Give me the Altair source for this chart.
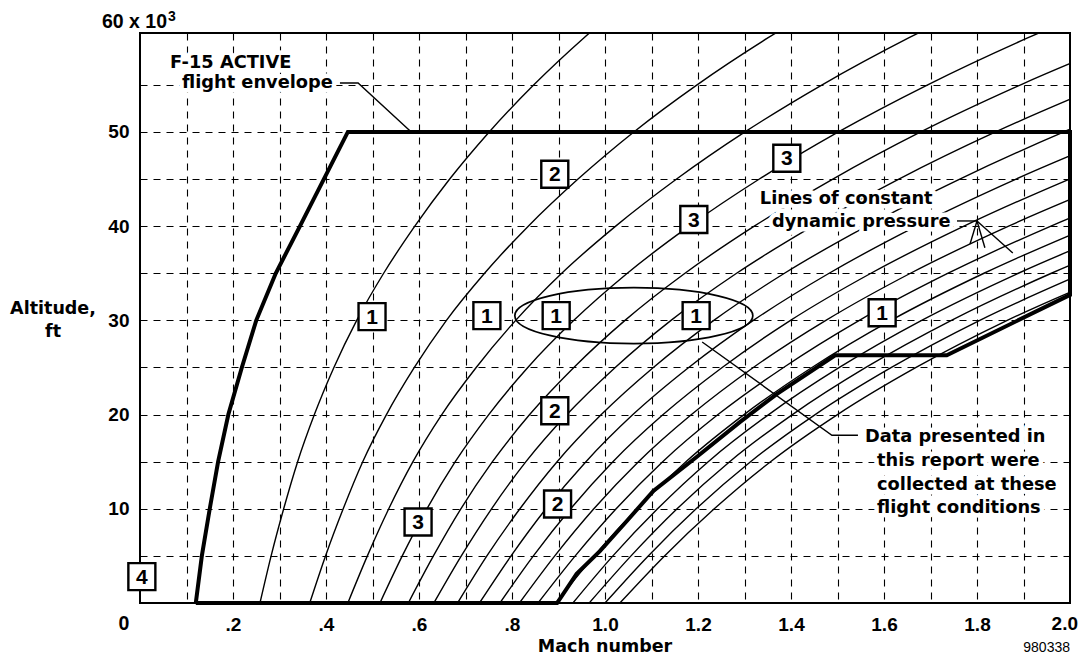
import altair as alt
import pandas as pd

# ---------------- data ----------------
ALT_K = [0, 5, 10, 15, 20, 25, 30, 35, 40, 45, 50, 55, 60, 65]  # altitude, thousands of ft
Q_PSF = [100, 200, 300, 400, 500, 600, 700, 800, 900, 1000, 1100, 1200, 1300, 1400, 1500, 1600]

# Mach number of each constant-q line at the altitudes above
M_Q100 = [0.258, 0.282, 0.309, 0.339, 0.375, 0.417, 0.466, 0.524, 0.591, 0.666, 0.751, 0.847, 0.955, 1.077]
M_Q200 = [0.365, 0.399, 0.437, 0.479, 0.530, 0.590, 0.659, 0.741, 0.835, 0.942, 1.062, 1.198, 1.351, 1.523]
M_Q300 = [0.447, 0.489, 0.535, 0.587, 0.649, 0.723, 0.808, 0.907, 1.023, 1.154, 1.301, 1.467, 1.654, 1.865]
M_Q400 = [0.516, 0.564, 0.617, 0.678, 0.750, 0.834, 0.933, 1.048, 1.181, 1.332, 1.502, 1.694, 1.910, 2.154]
M_Q500 = [0.577, 0.631, 0.690, 0.758, 0.838, 0.933, 1.043, 1.172, 1.321, 1.490, 1.679, 1.894, 2.135]
M_Q600 = [0.632, 0.691, 0.756, 0.830, 0.918, 1.022, 1.142, 1.283, 1.447, 1.632, 1.840, 2.074]
M_Q700 = [0.683, 0.746, 0.817, 0.897, 0.992, 1.104, 1.234, 1.386, 1.563, 1.763, 1.987, 2.241]
M_Q800 = [0.730, 0.798, 0.873, 0.959, 1.060, 1.180, 1.319, 1.482, 1.670, 1.884, 2.124]
M_Q900 = [0.774, 0.846, 0.926, 1.017, 1.125, 1.252, 1.399, 1.572, 1.772, 1.999, 2.253]
M_Q1000 = [0.816, 0.892, 0.976, 1.072, 1.186, 1.319, 1.475, 1.657, 1.868, 2.107]
M_Q1100 = [0.856, 0.936, 1.024, 1.124, 1.243, 1.384, 1.547, 1.738, 1.959, 2.210]
M_Q1200 = [0.894, 0.977, 1.069, 1.174, 1.299, 1.445, 1.615, 1.815, 2.046]
M_Q1300 = [0.931, 1.017, 1.113, 1.222, 1.352, 1.504, 1.681, 1.889, 2.129]
M_Q1400 = [0.966, 1.056, 1.155, 1.268, 1.403, 1.561, 1.745, 1.960, 2.210]
M_Q1500 = [1.000, 1.093, 1.196, 1.313, 1.452, 1.616, 1.806, 2.029]
M_Q1600 = [1.032, 1.128, 1.235, 1.356, 1.500, 1.669, 1.865, 2.096]
CURVES = [M_Q100, M_Q200, M_Q300, M_Q400, M_Q500, M_Q600, M_Q700, M_Q800,
          M_Q900, M_Q1000, M_Q1100, M_Q1200, M_Q1300, M_Q1400, M_Q1500, M_Q1600]

# F-15 ACTIVE flight envelope (closed outline)
ENV_MACH = [0.120, 0.133, 0.150, 0.168, 0.190, 0.219, 0.250, 0.292, 0.344, 0.447, 2.000, 2.000,
            1.735, 1.495, 1.370, 1.290, 1.197, 1.104, 1.047, 0.989, 0.939, 0.897, 0.120]
ENV_ALT = [0, 5, 10, 15, 20, 25, 30, 35, 40, 50, 50, 32.7,
           26.3, 26.3, 22.2, 19.2, 15.5, 11.9, 8.7, 5.5, 3.1, 0, 0]

# leader lines
LEAD_ID = ["a", "a", "a", "b", "b", "c", "c", "d", "d", "e", "e", "f", "f", "f"]
LEAD_MACH = [0.430, 0.469, 0.581, 1.757, 1.800, 1.800, 1.785, 1.800, 1.817, 1.800, 1.877, 1.209, 1.488, 1.544]
LEAD_ALT = [55.2, 55.2, 50.1, 40.55, 40.55, 40.55, 38.1, 40.55, 37.7, 40.55, 37.15, 27.7, 17.8, 17.8]

# ellipse around the test conditions
ELL_MACH = [1.062]
ELL_ALT = [30.5]

# boxed flight-condition numbers
BOX_TEXT = ["1", "1", "1", "1", "1", "2", "2", "2", "3", "3", "3", "4"]
BOX_MACH = [0.499, 0.746, 0.895, 1.196, 1.596, 0.892, 0.892, 0.898, 1.191, 1.391, 0.598, 0.004]
BOX_ALT = [30.4, 30.5, 30.5, 30.5, 30.8, 45.5, 20.4, 10.5, 40.7, 47.2, 8.6, 2.8]

# annotations inside the plot
NOTE_TEXT = ["F-15 ACTIVE", "flight envelope", "Lines of constant", "dynamic pressure",
             "Data presented in", "this report were", "collected at these", "flight conditions"]
NOTE_MACH = [0.0645, 0.0903, 1.333, 1.359, 1.559, 1.585, 1.585, 1.585]
NOTE_ALT = [56.8, 54.7, 42.36, 39.9, 17.1, 14.5, 12.0, 9.55]

X_TICKS = [0.1, 0.2, 0.3, 0.4, 0.5, 0.6, 0.7, 0.8, 0.9, 1.0,
           1.1, 1.2, 1.3, 1.4, 1.5, 1.6, 1.7, 1.8, 1.9]
Y_TICKS = [5, 10, 15, 20, 25, 30, 35, 40, 45, 50, 55]

# ---------------- tables ----------------
rows = []
for q, machs in zip(Q_PSF, CURVES):
    for a, m in zip(ALT_K, machs):
        rows.append({"q": q, "mach": m, "alt": a})
curves_df = pd.DataFrame(rows)
env_df = pd.DataFrame({"mach": ENV_MACH, "alt": ENV_ALT, "i": list(range(len(ENV_MACH)))})
lead_df = pd.DataFrame({"id": LEAD_ID, "mach": LEAD_MACH, "alt": LEAD_ALT, "i": list(range(len(LEAD_ID)))})
ell_df = pd.DataFrame({"mach": ELL_MACH, "alt": ELL_ALT})
box_df = pd.DataFrame({"label": BOX_TEXT, "mach": BOX_MACH, "alt": BOX_ALT})
note_df = pd.DataFrame({"label": NOTE_TEXT, "mach": NOTE_MACH, "alt": NOTE_ALT})
one_df = pd.DataFrame({"k": [0]})

# ---------------- scales & axes ----------------
xs = alt.Scale(domain=[0, 2], nice=False, zero=False)
ys = alt.Scale(domain=[0, 60.5], nice=False, zero=False)

xaxis = alt.Axis(
    values=X_TICKS,
    labelExpr="(round(datum.value*10) % 2 == 0) ? (datum.value < 1 ? substring(format(datum.value, '.1f'), 1) : format(datum.value, '.1f')) : ''",
    grid=True, gridDash=[7, 6], gridColor="black", gridWidth=1.1, gridOpacity=1,
    domain=False, ticks=False, tickSize=0,
    labelFont="Liberation Sans", labelFontWeight="bold", labelFontSize=19, labelColor="black",
    labelBaseline="alphabetic", labelPadding=27, labelFlush=False, labelOverlap=False,
    title=None,
)
yaxis = alt.Axis(
    values=Y_TICKS,
    labelExpr="datum.value % 10 == 0 ? format(datum.value, 'd') : ''",
    grid=True, gridDash=[7, 6], gridColor="black", gridWidth=1.1, gridOpacity=1,
    domain=False, ticks=False, tickSize=0,
    labelFont="Liberation Sans", labelFontWeight="bold", labelFontSize=19, labelColor="black",
    labelAlign="right", labelBaseline="middle", labelPadding=11, labelFlush=False, labelOverlap=False,
    title=None,
)
X = alt.X("mach:Q", scale=xs, axis=xaxis)
Y = alt.Y("alt:Q", scale=ys, axis=yaxis)

# ---------------- layers ----------------
curves = alt.Chart(curves_df).mark_line(
    color="black", strokeWidth=1.4, interpolate="monotone", clip=True
).encode(x=X, y=Y, detail="q:N", order="alt:Q")

envelope = alt.Chart(env_df).mark_line(
    color="black", strokeWidth=4, strokeJoin="miter"
).encode(x=X, y=Y, order="i:Q")

leaders = alt.Chart(lead_df).mark_line(
    color="black", strokeWidth=1.4
).encode(x=X, y=Y, detail="id:N", order="i:Q")

ELLIPSE_PATH = ("M -1 0 C -1 -0.13 -0.5523 -0.235 0 -0.235 C 0.5523 -0.235 1 -0.13 1 0 "
                "C 1 0.13 0.5523 0.235 0 0.235 C -0.5523 0.235 -1 0.13 -1 0 Z")
ellipse = alt.Chart(ell_df).mark_point(
    shape=ELLIPSE_PATH, size=238 * 238, filled=False, color="black", strokeWidth=1.7, opacity=1
).encode(x=X, y=Y)

note_style = dict(font="DejaVu Sans", fontWeight="bold", fontSize=17.8, align="left", baseline="alphabetic")
note_halo = alt.Chart(note_df).mark_text(
    color="white", stroke="white", strokeWidth=9, strokeJoin="round", **note_style
).encode(x=X, y=Y, text="label:N")
notes = alt.Chart(note_df).mark_text(color="black", **note_style).encode(x=X, y=Y, text="label:N")

boxes = alt.Chart(box_df).mark_square(
    size=729, filled=True, fill="white", stroke="black", strokeWidth=2.4, opacity=1
).encode(x=X, y=Y)
box_text = alt.Chart(box_df).mark_text(
    font="Liberation Sans", fontWeight="bold", fontSize=21, color="black",
    align="center", baseline="middle", dy=1
).encode(x=X, y=Y, text="label:N")


def ptext(txt, x, y, **kw):
    return alt.Chart(one_df).mark_text(text=txt, color="black", **kw).encode(
        x=alt.value(x), y=alt.value(y))


bold_sans = dict(font="DejaVu Sans", fontWeight="bold", fontSize=17.5, baseline="alphabetic")
bold_num = dict(font="Liberation Sans", fontWeight="bold", baseline="alphabetic")

t_alt1 = ptext("Altitude,", -87, 281, align="center", **bold_sans)
t_alt2 = ptext("ft", -87, 304, align="center", **bold_sans)
t_mach = ptext("Mach number", 465, 619, align="center", **bold_sans)
t_zero = ptext("0", -16, 597, align="center", fontSize=19.5, **bold_num)
t_two = ptext("2.0", 938, 597, align="right", fontSize=19, **bold_num)
t_60 = ptext("60 x 10", -38, -5, align="left", fontSize=19.5, **bold_num)
t_exp = ptext("3", 28, -12, align="left", fontSize=14, **bold_num)
t_id = ptext("980338", 930, 619, align="right", font="Liberation Sans", fontSize=14, baseline="alphabetic")

chart = alt.layer(
    curves, envelope, leaders, ellipse, note_halo, notes, boxes, box_text,
    t_alt1, t_alt2, t_mach, t_zero, t_two, t_60, t_exp, t_id
).properties(
    width=930, height=570,
    padding={"left": 132, "top": 25, "right": 10, "bottom": 54},
    autosize=alt.AutoSizeParams(type="none"),
    background="white",
).configure_view(stroke="black", strokeWidth=2)

chart.save("out.html", embed_options={"renderer": "svg", "actions": False})
